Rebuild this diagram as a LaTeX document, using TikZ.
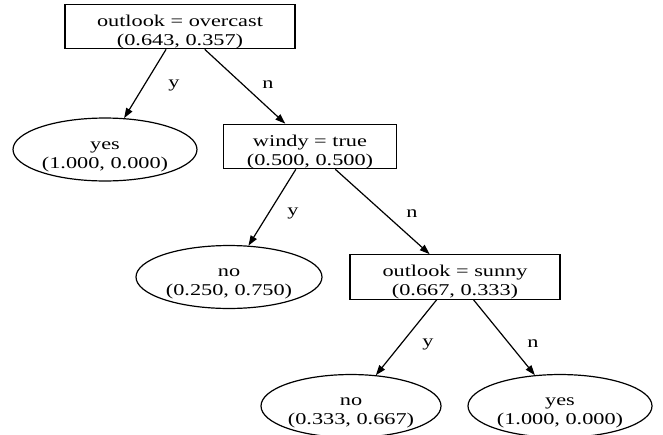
\documentclass[tikz,border=0pt]{standalone}
\usepackage{fontspec}
\setmainfont{Liberation Serif}[FakeStretch=1.35]
\usetikzlibrary{shapes.geometric,arrows.meta}
\newcommand{\topst}{\rule{0pt}{22pt}}
\begin{document}
\begin{tikzpicture}[x=1pt,y=-1pt,
  every node/.style={font=\fontsize{16.5}{19}\selectfont, align=center, inner sep=0pt},
  testbox/.style={draw, line width=1.2pt, rectangle, minimum height=43pt},
  leaf/.style={draw, line width=1.2pt, ellipse, minimum width=184pt, minimum height=57pt},
  edge/.style={draw, line width=1.2pt, -{Triangle[length=10pt,width=7pt]}},
  lbl/.style={font=\fontsize{16.5}{19}\selectfont}]
\useasboundingbox (0,0) rectangle (663,434);
\node[testbox, minimum width=230pt] (root) at (180,26.5) {\topst outlook = overcast\\(0.643, 0.357)};
\node[leaf] (yes1) at (105,149.5) {\topst yes\\(1.000, 0.000)};
\node[testbox, minimum width=173pt] (windy) at (310,146.5) {\topst windy = true\\(0.500, 0.500)};
\node[leaf, minimum width=186pt, minimum height=60pt] (no1) at (229,277) {\topst no\\(0.250, 0.750)};
\node[testbox, minimum width=210pt, minimum height=42pt] (sunny) at (455,277) {\topst outlook = sunny\\(0.667, 0.333)};
\node[leaf, minimum width=180pt, minimum height=58pt] (no2) at (351,406) {\topst no\\(0.333, 0.667)};
\node[leaf] (yes2) at (560,406) {\topst yes\\(1.000, 0.000)};
\draw[edge] (root) -- (yes1);
\draw[edge] (root) -- (windy);
\draw[edge] (windy) -- (no1);
\draw[edge] (windy) -- (sunny);
\draw[edge] (sunny) -- (no2);
\draw[edge] (sunny) -- (yes2);
\node[lbl] (l1) at (174,85) {y};
\node[lbl] (l2) at (268,85) {n};
\node[lbl] (l3) at (293,213) {y};
\node[lbl] (l4) at (412,214) {n};
\node[lbl] (l5) at (428,344) {y};
\node[lbl] (l6) at (533,344) {n};
\end{tikzpicture}
\end{document}
